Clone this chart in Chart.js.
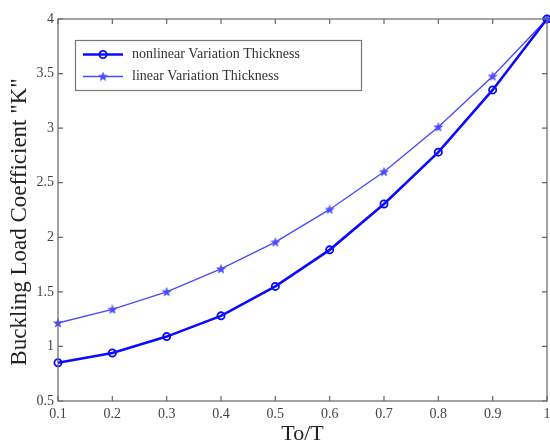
<!DOCTYPE html>
<html>
<head>
<meta charset="utf-8">
<script src="https://cdn.jsdelivr.net/npm/chart.js@4/dist/chart.umd.min.js"></script>
<style>
html,body{margin:0;padding:0;background:#fff;}
#wrap{width:550px;height:441px;position:relative;}
</style>
</head>
<body>
<div id="wrap"><canvas id="c" width="550" height="441"></canvas></div>
<script>
const xValues = [0.1, 0.2, 0.3, 0.4, 0.5, 0.6, 0.7, 0.8, 0.9, 1.0];
const nonlinearK = [0.85, 0.94, 1.09, 1.28, 1.55, 1.885, 2.305, 2.78, 3.35, 4.0];
const linearK = [1.215, 1.34, 1.50, 1.71, 1.955, 2.255, 2.60, 3.01, 3.475, 4.0];
const seriesNames = ["nonlinear Variation Thickness", "linear Variation Thickness"];
const xTitle = "To/T";
const yTitle = "Buckling Load Coefficient \"K\"";

const SERIF = "'Liberation Serif', 'DejaVu Serif', serif";

function makeStar(color) {
  const c = document.createElement('canvas');
  c.width = 10; c.height = 10;
  const g = c.getContext('2d');
  const cx = 5, cy = 5.3, R = 4.6, r = 1.9;
  g.beginPath();
  for (let i = 0; i < 10; i++) {
    const ang = -Math.PI / 2 + i * Math.PI / 5;
    const rad = i % 2 === 0 ? R : r;
    const px = cx + rad * Math.cos(ang), py = cy + rad * Math.sin(ang);
    if (i === 0) g.moveTo(px, py); else g.lineTo(px, py);
  }
  g.closePath();
  g.fillStyle = color;
  g.fill();
  g.strokeStyle = color;
  g.lineWidth = 0.6;
  g.stroke();
  return c;
}
const starImg = makeStar('#4b4bff');

const framePlugin = {
  id: 'frame',
  afterDraw(chart) {
    const ctx = chart.ctx;
    const a = chart.chartArea;
    const xs = chart.scales.x, ys = chart.scales.y;
    ctx.save();
    ctx.strokeStyle = '#666';
    ctx.lineWidth = 1.2;
    ctx.strokeRect(a.left, a.top, a.right - a.left, a.bottom - a.top);
    ctx.beginPath();
    xs.ticks.forEach(t => {
      const px = xs.getPixelForValue(t.value);
      ctx.moveTo(px, a.bottom); ctx.lineTo(px, a.bottom - 5);
      ctx.moveTo(px, a.top); ctx.lineTo(px, a.top + 5);
    });
    ys.ticks.forEach(t => {
      const py = ys.getPixelForValue(t.value);
      ctx.moveTo(a.left, py); ctx.lineTo(a.left + 5, py);
      ctx.moveTo(a.right, py); ctx.lineTo(a.right - 5, py);
    });
    ctx.stroke();

    // axis titles
    ctx.fillStyle = '#222';
    ctx.textAlign = 'center';
    ctx.textBaseline = 'middle';
    ctx.font = "22px " + SERIF;
    ctx.fillText(xTitle, (a.left + a.right) / 2, 434);
    ctx.save();
    ctx.translate(20, 222);
    ctx.rotate(-Math.PI / 2);
    ctx.font = "23px " + SERIF;
    ctx.fillText(yTitle, 0, 0);
    ctx.restore();

    // legend
    const bx = 75.5, by = 40.5, bw = 286, bh = 50;
    ctx.fillStyle = '#fff';
    ctx.fillRect(bx, by, bw, bh);
    ctx.strokeStyle = '#777';
    ctx.lineWidth = 1.2;
    ctx.strokeRect(bx, by, bw, bh);
    const rows = [54.5, 76.5];
    chart.data.datasets.forEach((ds, i) => {
      const y = rows[i];
      ctx.strokeStyle = ds.borderColor;
      ctx.lineWidth = ds.borderWidth;
      ctx.beginPath();
      ctx.moveTo(83, y); ctx.lineTo(123, y);
      ctx.stroke();
      ctx.strokeStyle = ds.pointBorderColor;
      ctx.fillStyle = ds.pointBackgroundColor;
      ctx.lineWidth = ds.pointBorderWidth;
      Chart.helpers.drawPoint(ctx, {
        pointStyle: ds.pointStyle,
        radius: ds.pointRadius,
        borderWidth: ds.pointBorderWidth,
        rotation: 0
      }, 103, y);
      ctx.fillStyle = '#333';
      ctx.font = "14px " + SERIF;
      ctx.textAlign = 'left';
      ctx.textBaseline = 'middle';
      ctx.fillText(ds.label, 132, y);
    });
    ctx.restore();
  }
};

const toPts = arr => xValues.map((x, i) => ({x: x, y: arr[i]}));

new Chart(document.getElementById('c'), {
  type: 'line',
  data: {
    datasets: [
      {
        label: seriesNames[0],
        data: toPts(nonlinearK),
        borderColor: '#0a0aff',
        borderWidth: 2.6,
        pointStyle: 'circle',
        pointRadius: 3.6,
        pointBorderWidth: 1.8,
        pointBackgroundColor: 'rgba(0,0,0,0)',
        pointBorderColor: '#0a0aff',
        tension: 0
      },
      {
        label: seriesNames[1],
        data: toPts(linearK),
        borderColor: '#4b4bff',
        borderWidth: 1.4,
        pointStyle: starImg,
        pointRadius: 4.5,
        pointBorderWidth: 1,
        pointBackgroundColor: '#4b4bff',
        pointBorderColor: '#4b4bff',
        tension: 0
      }
    ]
  },
  options: {
    responsive: false,
    animation: false,
    devicePixelRatio: 1,
    clip: false,
    layout: {autoPadding: false, padding: {left: 0, right: 3, top: 19, bottom: 0}},
    plugins: {legend: {display: false}, tooltip: {enabled: false}},
    scales: {
      x: {
        type: 'linear',
        min: 0.1, max: 1.0,
        afterFit(s) { s.height = 40; s.paddingLeft = 0; s.paddingRight = 0; },
        grid: {display: false, drawTicks: false},
        border: {display: false},
        ticks: {
          stepSize: 0.1,
          padding: 5,
          color: '#444',
          font: {family: SERIF, size: 14},
          callback: v => String(Math.round(v * 10) / 10)
        }
      },
      y: {
        type: 'linear',
        min: 0.5, max: 4,
        afterFit(s) { s.width = 58; s.paddingTop = 0; s.paddingBottom = 0; },
        grid: {display: false, drawTicks: false},
        border: {display: false},
        ticks: {
          stepSize: 0.5,
          padding: 4,
          color: '#444',
          font: {family: SERIF, size: 14},
          callback: v => String(Math.round(v * 10) / 10)
        }
      }
    }
  },
  plugins: [framePlugin]
});
</script>
</body>
</html>
